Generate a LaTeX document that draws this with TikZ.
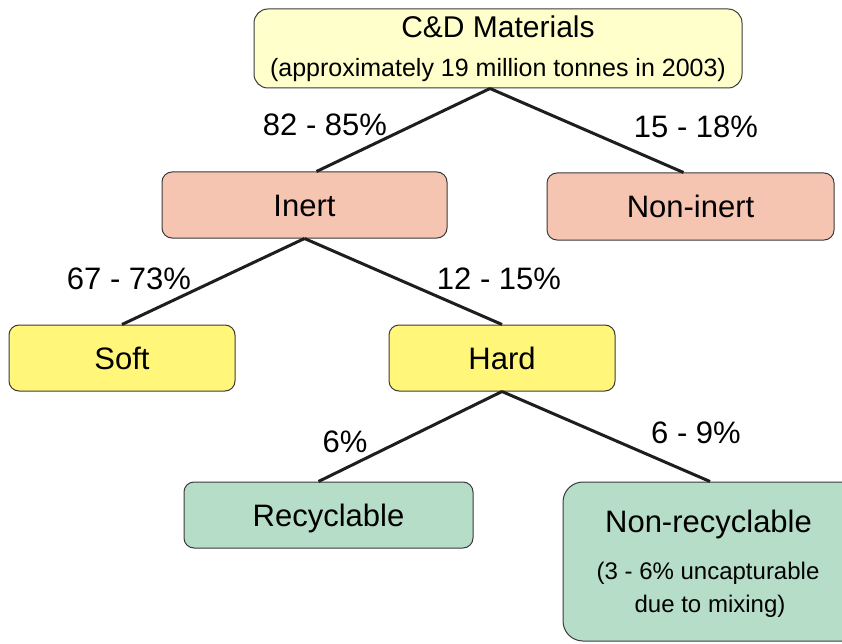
\documentclass[tikz,border=0pt]{standalone}
\usepackage{fontspec}
\setmainfont{Liberation Sans}
\definecolor{topfill}{HTML}{FFFFCC}
\definecolor{salmon}{HTML}{F5C5B2}
\definecolor{yel}{HTML}{FFF67A}
\definecolor{mint}{HTML}{B5DDC8}
\definecolor{edge}{HTML}{3A3A3A}
\definecolor{linkc}{HTML}{1E1E1E}
\begin{document}
\begin{tikzpicture}[x=1pt,y=-1pt,
  box/.style={draw=edge, line width=1pt, rounded corners=10pt, inner sep=0pt,
    text height=22.5pt, text depth=0pt, font=\fontsize{31}{36}\selectfont},
  pct/.style={inner sep=0pt, text height=22.5pt, text depth=0pt,
    font=\fontsize{31}{36}\selectfont},
  bigtxt/.style={anchor=base, inner sep=0pt, font=\fontsize{31}{36}\selectfont},
  smalltxt/.style={anchor=base, inner sep=0pt, font=\fontsize{24.5}{30}\selectfont},
  link/.style={line width=3pt, draw=linkc}]
\useasboundingbox (0,0) rectangle (842,644);
\clip (0,0) rectangle (842,644);

% boxes
\node[box, fill=topfill, minimum width=488pt, minimum height=79pt, rounded corners=14pt] (top) at (498,48.5) {};
\node[anchor=base, inner sep=0pt, font=\fontsize{30}{36}\selectfont] (toptitle) at (498,38) {C\&D Materials};
\node[smalltxt, font=\fontsize{25}{30}\selectfont] (topsub) at (498,76.5) {(approximately 19 million tonnes in 2003)};

\node[box, fill=salmon, minimum width=285pt, minimum height=66pt] (inert) at (304.5,205) {Inert};
\node[box, fill=salmon, minimum width=287pt, minimum height=67pt] (noninert) at (690.5,206.5) {Non-inert};
\node[box, fill=yel, minimum width=226pt, minimum height=66pt] (soft) at (122,358) {Soft};
\node[box, fill=yel, minimum width=226pt, minimum height=66pt] (hard) at (502,358) {Hard};
\node[box, fill=mint, minimum width=289pt, minimum height=66pt] (recyc) at (328.5,515) {Recyclable};
\node[box, fill=mint, minimum width=310pt, minimum height=159pt, rounded corners=20pt] (nonrecyc) at (718,561.5) {};
\node[bigtxt] (nrtitle) at (708.5,532) {Non-recyclable};
\node[smalltxt, font=\fontsize{24}{30}\selectfont] (nrsub1) at (708,579) {(3 - 6\% uncapturable};
\node[smalltxt, font=\fontsize{24}{30}\selectfont] (nrsub2) at (710,612) {due to mixing)};

% connectors
\draw[link] ([xshift=-8pt]top.south) -- ([xshift=12pt]inert.north);
\draw[link] ([xshift=-8pt]top.south) -- ([xshift=-7pt]noninert.north);
\draw[link] (inert.south) -- (soft.north);
\draw[link] (inert.south) -- (hard.north);
\draw[link] (hard.south) -- ([xshift=-10pt]recyc.north);
\draw[link] (hard.south) -- ([xshift=-8pt]nonrecyc.north);

% percentages
\node[pct] (p1) at (325,124) {82 - 85\%};
\node[pct] (p2) at (696,126.5) {15 - 18\%};
\node[pct] (p3) at (129,278.5) {67 - 73\%};
\node[pct] (p4) at (499,278.5) {12 - 15\%};
\node[pct] (p5) at (345,441) {6\%};
\node[pct] (p6) at (696,432.5) {6 - 9\%};
\end{tikzpicture}
\end{document}
